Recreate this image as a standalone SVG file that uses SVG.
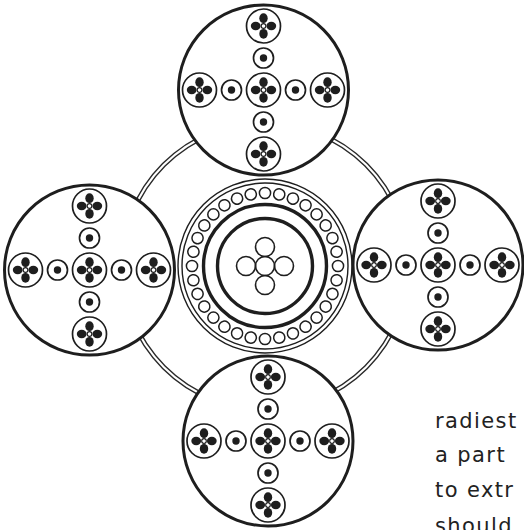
<svg xmlns="http://www.w3.org/2000/svg" xmlns:xlink="http://www.w3.org/1999/xlink" width="524" height="530" viewBox="0 0 524 530">
  <style>
    .ink { fill: none; stroke: #1e1e1e; }
    .rim { fill: #fff; stroke: #1e1e1e; stroke-width: 3; }
    .thin { fill: #fff; stroke: #1e1e1e; stroke-width: 1.7; }
    .blob { fill: #1e1e1e; }
    .eye { fill: #fff; stroke: #1e1e1e; stroke-width: 1.2; }
    .link { fill: none; stroke: #2a2a2a; stroke-width: 1.4; }
    .bead { fill: none; stroke: #1e1e1e; stroke-width: 1.5; }
    .txt { font-family: "DejaVu Sans", "Liberation Sans", sans-serif; font-size: 21px; letter-spacing: 1.4px; fill: #222; }
  </style>
  <defs>
    <!-- four-dot rosette inside a ring -->
    <g id="rosette">
      <circle r="17" class="thin"/>
      <ellipse cx="0" cy="-7.8" rx="4.2" ry="4.9" class="blob"/>
      <ellipse cx="0" cy="7.8" rx="4.2" ry="4.9" class="blob"/>
      <ellipse cx="-7.8" cy="0" rx="4.9" ry="4.2" class="blob"/>
      <ellipse cx="7.8" cy="0" rx="4.9" ry="4.2" class="blob"/>
      <circle r="2.3" class="eye"/>
    </g>
    <!-- small ring with a dot -->
    <g id="dotring">
      <circle r="10" class="thin"/>
      <circle r="3.7" class="blob"/>
    </g>
    <!-- outer disc holding a cross of rosettes -->
    <g id="crossdisc">
      <circle r="85" class="rim"/>
      <use xlink:href="#rosette"/>
      <use xlink:href="#rosette" x="0" y="-64"/>
      <use xlink:href="#rosette" x="0" y="64"/>
      <use xlink:href="#rosette" x="-64" y="0"/>
      <use xlink:href="#rosette" x="64" y="0"/>
      <use xlink:href="#dotring" x="0" y="-32"/>
      <use xlink:href="#dotring" x="0" y="32"/>
      <use xlink:href="#dotring" x="-32" y="0"/>
      <use xlink:href="#dotring" x="32" y="0"/>
    </g>
    <circle id="bead" cx="265" cy="193" r="5.6" class="bead"/>
  </defs>

  <rect width="524" height="530" fill="#fff"/>

  <!-- double ring linking the outer discs -->
  <g id="connectors">
    <circle cx="265" cy="266" r="141.3" class="link"/>
    <circle cx="265" cy="266" r="144.8" class="link"/>
  </g>

  <!-- central medallion -->
  <g id="center">
    <circle cx="265" cy="266" r="87" fill="#fff" stroke="#1e1e1e" stroke-width="1.4"/>
    <circle cx="265" cy="266" r="83" class="ink" stroke-width="1.4"/>
    <g id="beads">
      <use xlink:href="#bead"/>
      <use xlink:href="#bead" transform="rotate(11.25 265 266)"/>
      <use xlink:href="#bead" transform="rotate(22.5 265 266)"/>
      <use xlink:href="#bead" transform="rotate(33.75 265 266)"/>
      <use xlink:href="#bead" transform="rotate(45 265 266)"/>
      <use xlink:href="#bead" transform="rotate(56.25 265 266)"/>
      <use xlink:href="#bead" transform="rotate(67.5 265 266)"/>
      <use xlink:href="#bead" transform="rotate(78.75 265 266)"/>
      <use xlink:href="#bead" transform="rotate(90 265 266)"/>
      <use xlink:href="#bead" transform="rotate(101.25 265 266)"/>
      <use xlink:href="#bead" transform="rotate(112.5 265 266)"/>
      <use xlink:href="#bead" transform="rotate(123.75 265 266)"/>
      <use xlink:href="#bead" transform="rotate(135 265 266)"/>
      <use xlink:href="#bead" transform="rotate(146.25 265 266)"/>
      <use xlink:href="#bead" transform="rotate(157.5 265 266)"/>
      <use xlink:href="#bead" transform="rotate(168.75 265 266)"/>
      <use xlink:href="#bead" transform="rotate(180 265 266)"/>
      <use xlink:href="#bead" transform="rotate(191.25 265 266)"/>
      <use xlink:href="#bead" transform="rotate(202.5 265 266)"/>
      <use xlink:href="#bead" transform="rotate(213.75 265 266)"/>
      <use xlink:href="#bead" transform="rotate(225 265 266)"/>
      <use xlink:href="#bead" transform="rotate(236.25 265 266)"/>
      <use xlink:href="#bead" transform="rotate(247.5 265 266)"/>
      <use xlink:href="#bead" transform="rotate(258.75 265 266)"/>
      <use xlink:href="#bead" transform="rotate(270 265 266)"/>
      <use xlink:href="#bead" transform="rotate(281.25 265 266)"/>
      <use xlink:href="#bead" transform="rotate(292.5 265 266)"/>
      <use xlink:href="#bead" transform="rotate(303.75 265 266)"/>
      <use xlink:href="#bead" transform="rotate(315 265 266)"/>
      <use xlink:href="#bead" transform="rotate(326.25 265 266)"/>
      <use xlink:href="#bead" transform="rotate(337.5 265 266)"/>
      <use xlink:href="#bead" transform="rotate(348.75 265 266)"/>
    </g>
    <circle cx="265" cy="266" r="61.5" class="ink" stroke-width="3.4"/>
    <circle cx="265" cy="266" r="47.5" class="ink" stroke-width="3.4"/>
    <g id="flower" class="ink" stroke-width="1.6">
      <circle cx="265" cy="266" r="9.5"/>
      <circle cx="265" cy="247" r="9.5"/>
      <circle cx="265" cy="285" r="9.5"/>
      <circle cx="246" cy="266" r="9.5"/>
      <circle cx="284" cy="266" r="9.5"/>
    </g>
  </g>

  <!-- outer discs -->
  <g id="disc-top"><use xlink:href="#crossdisc" x="263.5" y="90"/></g>
  <g id="disc-left"><use xlink:href="#crossdisc" x="89.5" y="270"/></g>
  <g id="disc-right"><use xlink:href="#crossdisc" x="438" y="265"/></g>
  <g id="disc-bottom"><use xlink:href="#crossdisc" x="268" y="441"/></g>

  <!-- running text at lower right -->
  <g id="caption" class="txt">
    <text x="435" y="428">radiest</text>
    <text x="435" y="462">a part</text>
    <text x="435" y="497">to extr</text>
    <text x="435" y="533">should</text>
  </g>
</svg>
